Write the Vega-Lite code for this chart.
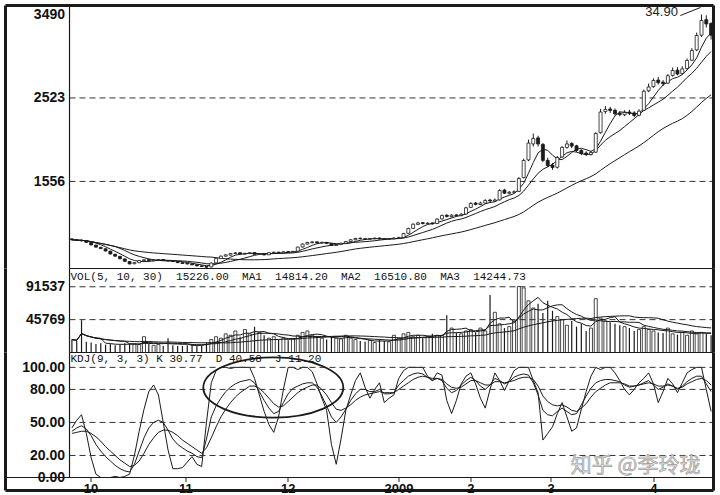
{
"$schema": "https://vega.github.io/schema/vega-lite/v6.json",
"background": "white",
"padding": {"left": 3.5, "top": 3.5, "right": 4, "bottom": 1},
"spacing": 0,
"bounds": "flush",
"config": {
 "view": {"stroke": null},
 "line": {"stroke": "#1a1a1a", "strokeWidth": 1},
 "rule": {"stroke": "#1a1a1a"}
},
"data": {"values": [
{"i":0,"o":890,"h":898,"l":872,"c":880,"v":18000,"k":42,"d":40,"j":45},
{"i":1,"o":878,"h":886,"l":866,"c":872,"v":16000,"k":45,"d":41,"j":52},
{"i":2,"o":874,"h":882,"l":860,"c":868,"v":45000,"k":47,"d":42,"j":57},
{"i":3,"o":866,"h":870,"l":845,"c":850,"v":15000,"k":44,"d":42,"j":40},
{"i":4,"o":848,"h":852,"l":815,"c":820,"v":14000,"k":38,"d":40,"j":18},
{"i":5,"o":818,"h":822,"l":790,"c":795,"v":12000,"k":30,"d":37,"j":3},
{"i":6,"o":792,"h":798,"l":772,"c":778,"v":13000,"k":24,"d":33,"j":0},
{"i":7,"o":775,"h":780,"l":745,"c":750,"v":11000,"k":19,"d":28,"j":0},
{"i":8,"o":748,"h":752,"l":710,"c":715,"v":12000,"k":15,"d":24,"j":0},
{"i":9,"o":712,"h":718,"l":684,"c":690,"v":10000,"k":11,"d":20,"j":1},
{"i":10,"o":688,"h":692,"l":655,"c":660,"v":11000,"k":8,"d":16,"j":0},
{"i":11,"o":658,"h":662,"l":625,"c":630,"v":13000,"k":6,"d":13,"j":1},
{"i":12,"o":628,"h":632,"l":595,"c":600,"v":12000,"k":5,"d":10,"j":3},
{"i":13,"o":602,"h":620,"l":598,"c":615,"v":12000,"k":12,"d":11,"j":20},
{"i":14,"o":614,"h":645,"l":610,"c":640,"v":11000,"k":24,"d":15,"j":42},
{"i":15,"o":638,"h":655,"l":632,"c":648,"v":22000,"k":36,"d":22,"j":62},
{"i":16,"o":650,"h":656,"l":632,"c":638,"v":12000,"k":45,"d":30,"j":78},
{"i":17,"o":636,"h":650,"l":630,"c":645,"v":10000,"k":50,"d":36,"j":84},
{"i":18,"o":644,"h":658,"l":640,"c":650,"v":11000,"k":52,"d":41,"j":75},
{"i":19,"o":652,"h":656,"l":635,"c":640,"v":9000,"k":50,"d":43,"j":50},
{"i":20,"o":640,"h":646,"l":628,"c":636,"v":20000,"k":43,"d":43,"j":25},
{"i":21,"o":636,"h":640,"l":622,"c":628,"v":10000,"k":35,"d":41,"j":8},
{"i":22,"o":628,"h":632,"l":610,"c":615,"v":9000,"k":30,"d":38,"j":8},
{"i":23,"o":614,"h":620,"l":600,"c":605,"v":9000,"k":27,"d":34,"j":9},
{"i":24,"o":606,"h":612,"l":594,"c":600,"v":10000,"k":24,"d":31,"j":14},
{"i":25,"o":600,"h":604,"l":585,"c":590,"v":12000,"k":22,"d":28,"j":19},
{"i":26,"o":590,"h":594,"l":572,"c":578,"v":9000,"k":19,"d":25,"j":12},
{"i":27,"o":578,"h":583,"l":565,"c":570,"v":10000,"k":18,"d":22,"j":10},
{"i":28,"o":570,"h":575,"l":556,"c":562,"v":14000,"k":35,"d":27,"j":50},
{"i":29,"o":565,"h":615,"l":562,"c":610,"v":18000,"k":55,"d":36,"j":86},
{"i":30,"o":612,"h":670,"l":608,"c":665,"v":22000,"k":65,"d":46,"j":97},
{"i":31,"o":662,"h":698,"l":658,"c":690,"v":20000,"k":72,"d":55,"j":100},
{"i":32,"o":690,"h":712,"l":684,"c":705,"v":26000,"k":78,"d":62,"j":100},
{"i":33,"o":702,"h":726,"l":698,"c":720,"v":24000,"k":82,"d":68,"j":99},
{"i":34,"o":720,"h":736,"l":714,"c":728,"v":30000,"k":85,"d":73,"j":100},
{"i":35,"o":730,"h":734,"l":710,"c":715,"v":22000,"k":87,"d":77,"j":100},
{"i":36,"o":714,"h":730,"l":708,"c":722,"v":32000,"k":88,"d":80,"j":100},
{"i":37,"o":720,"h":738,"l":715,"c":730,"v":26000,"k":89,"d":83,"j":100},
{"i":38,"o":732,"h":736,"l":706,"c":712,"v":36000,"k":86,"d":83,"j":90},
{"i":39,"o":710,"h":724,"l":704,"c":718,"v":28000,"k":78,"d":81,"j":75},
{"i":40,"o":718,"h":722,"l":698,"c":705,"v":24000,"k":70,"d":77,"j":60},
{"i":41,"o":706,"h":736,"l":702,"c":730,"v":20000,"k":63,"d":72,"j":48},
{"i":42,"o":728,"h":742,"l":722,"c":735,"v":22000,"k":58,"d":67,"j":41},
{"i":43,"o":736,"h":740,"l":722,"c":728,"v":18000,"k":60,"d":64,"j":55},
{"i":44,"o":728,"h":748,"l":724,"c":740,"v":20000,"k":68,"d":65,"j":80},
{"i":45,"o":742,"h":748,"l":730,"c":736,"v":17000,"k":76,"d":69,"j":100},
{"i":46,"o":735,"h":752,"l":730,"c":745,"v":19000,"k":81,"d":73,"j":100},
{"i":47,"o":748,"h":800,"l":745,"c":795,"v":24000,"k":83,"d":77,"j":98},
{"i":48,"o":796,"h":838,"l":790,"c":830,"v":28000,"k":85,"d":80,"j":100},
{"i":49,"o":830,"h":856,"l":824,"c":848,"v":30000,"k":86,"d":82,"j":100},
{"i":50,"o":846,"h":864,"l":840,"c":855,"v":24000,"k":86,"d":84,"j":96},
{"i":51,"o":856,"h":860,"l":838,"c":845,"v":22000,"k":82,"d":84,"j":85},
{"i":52,"o":842,"h":858,"l":836,"c":850,"v":20000,"k":74,"d":80,"j":72},
{"i":53,"o":850,"h":854,"l":830,"c":838,"v":18000,"k":65,"d":75,"j":61},
{"i":54,"o":836,"h":840,"l":808,"c":815,"v":22000,"k":55,"d":68,"j":30},
{"i":55,"o":814,"h":832,"l":808,"c":825,"v":20000,"k":50,"d":62,"j":12},
{"i":56,"o":826,"h":846,"l":820,"c":840,"v":19000,"k":55,"d":61,"j":35},
{"i":57,"o":840,"h":866,"l":835,"c":860,"v":24000,"k":62,"d":63,"j":61},
{"i":58,"o":860,"h":886,"l":855,"c":880,"v":20000,"k":70,"d":66,"j":75},
{"i":59,"o":880,"h":902,"l":874,"c":895,"v":18000,"k":76,"d":70,"j":88},
{"i":60,"o":898,"h":905,"l":885,"c":892,"v":16000,"k":80,"d":73,"j":95},
{"i":61,"o":892,"h":898,"l":880,"c":888,"v":15000,"k":80,"d":75,"j":82},
{"i":62,"o":886,"h":900,"l":880,"c":893,"v":17000,"k":78,"d":76,"j":72},
{"i":63,"o":892,"h":906,"l":886,"c":898,"v":14000,"k":78,"d":77,"j":80},
{"i":64,"o":900,"h":905,"l":884,"c":890,"v":18000,"k":80,"d":78,"j":86},
{"i":65,"o":890,"h":896,"l":878,"c":885,"v":16000,"k":76,"d":77,"j":68},
{"i":66,"o":884,"h":900,"l":878,"c":893,"v":15000,"k":76,"d":77,"j":72},
{"i":67,"o":892,"h":908,"l":886,"c":900,"v":24000,"k":77,"d":77,"j":75},
{"i":68,"o":898,"h":915,"l":892,"c":905,"v":20000,"k":84,"d":80,"j":90},
{"i":69,"o":906,"h":960,"l":900,"c":952,"v":26000,"k":88,"d":83,"j":97},
{"i":70,"o":955,"h":1020,"l":950,"c":1010,"v":28000,"k":92,"d":86,"j":100},
{"i":71,"o":1012,"h":1070,"l":1005,"c":1060,"v":22000,"k":94,"d":89,"j":100},
{"i":72,"o":1058,"h":1088,"l":1050,"c":1075,"v":24000,"k":95,"d":91,"j":100},
{"i":73,"o":1078,"h":1085,"l":1058,"c":1068,"v":20000,"k":94,"d":92,"j":100},
{"i":74,"o":1066,"h":1082,"l":1058,"c":1072,"v":22000,"k":91,"d":91,"j":92},
{"i":75,"o":1075,"h":1080,"l":1055,"c":1065,"v":26000,"k":88,"d":90,"j":88},
{"i":76,"o":1068,"h":1128,"l":1062,"c":1120,"v":24000,"k":90,"d":90,"j":95},
{"i":77,"o":1122,"h":1172,"l":1115,"c":1160,"v":24000,"k":88,"d":89,"j":93},
{"i":78,"o":1165,"h":1175,"l":1138,"c":1150,"v":52000,"k":81,"d":85,"j":70},
{"i":79,"o":1148,"h":1176,"l":1140,"c":1165,"v":34000,"k":77,"d":82,"j":58},
{"i":80,"o":1168,"h":1175,"l":1150,"c":1158,"v":28000,"k":79,"d":81,"j":70},
{"i":81,"o":1160,"h":1188,"l":1152,"c":1175,"v":26000,"k":84,"d":82,"j":85},
{"i":82,"o":1178,"h":1262,"l":1172,"c":1250,"v":30000,"k":88,"d":85,"j":92},
{"i":83,"o":1255,"h":1315,"l":1248,"c":1300,"v":32000,"k":91,"d":88,"j":95},
{"i":84,"o":1305,"h":1318,"l":1278,"c":1290,"v":28000,"k":88,"d":88,"j":85},
{"i":85,"o":1288,"h":1320,"l":1280,"c":1305,"v":34000,"k":83,"d":86,"j":72},
{"i":86,"o":1305,"h":1350,"l":1298,"c":1335,"v":30000,"k":80,"d":84,"j":63},
{"i":87,"o":1340,"h":1355,"l":1315,"c":1330,"v":80000,"k":84,"d":84,"j":80},
{"i":88,"o":1328,"h":1358,"l":1320,"c":1340,"v":56000,"k":90,"d":87,"j":95},
{"i":89,"o":1342,"h":1465,"l":1335,"c":1451,"v":40000,"k":88,"d":87,"j":88},
{"i":90,"o":1455,"h":1470,"l":1410,"c":1420,"v":34000,"k":85,"d":86,"j":79},
{"i":91,"o":1418,"h":1445,"l":1405,"c":1430,"v":36000,"k":87,"d":87,"j":88},
{"i":92,"o":1430,"h":1452,"l":1420,"c":1435,"v":44000,"k":91,"d":88,"j":97},
{"i":93,"o":1440,"h":1605,"l":1432,"c":1590,"v":92000,"k":93,"d":90,"j":100},
{"i":94,"o":1600,"h":1820,"l":1590,"c":1798,"v":90000,"k":94,"d":91,"j":100},
{"i":95,"o":1805,"h":2040,"l":1790,"c":2000,"v":72000,"k":93,"d":91,"j":100},
{"i":96,"o":1990,"h":2110,"l":1960,"c":2053,"v":62000,"k":86,"d":89,"j":88},
{"i":97,"o":2060,"h":2085,"l":1960,"c":1990,"v":68000,"k":75,"d":83,"j":77},
{"i":98,"o":1985,"h":2000,"l":1780,"c":1800,"v":55000,"k":61,"d":74,"j":34},
{"i":99,"o":1800,"h":1830,"l":1720,"c":1740,"v":72000,"k":57,"d":69,"j":40},
{"i":100,"o":1745,"h":1770,"l":1690,"c":1717,"v":58000,"k":56,"d":66,"j":46},
{"i":101,"o":1720,"h":1850,"l":1705,"c":1833,"v":50000,"k":60,"d":65,"j":58},
{"i":102,"o":1840,"h":1965,"l":1830,"c":1950,"v":46000,"k":63,"d":66,"j":68},
{"i":103,"o":1950,"h":2030,"l":1935,"c":1990,"v":38000,"k":60,"d":64,"j":55},
{"i":104,"o":1995,"h":2010,"l":1940,"c":1965,"v":44000,"k":57,"d":61,"j":42},
{"i":105,"o":1968,"h":1980,"l":1895,"c":1914,"v":36000,"k":58,"d":60,"j":45},
{"i":106,"o":1915,"h":1930,"l":1860,"c":1880,"v":40000,"k":66,"d":63,"j":62},
{"i":107,"o":1885,"h":1905,"l":1850,"c":1870,"v":30000,"k":74,"d":67,"j":78},
{"i":108,"o":1868,"h":1910,"l":1855,"c":1890,"v":34000,"k":81,"d":73,"j":92},
{"i":109,"o":1895,"h":2125,"l":1885,"c":2111,"v":75000,"k":86,"d":78,"j":100},
{"i":110,"o":2120,"h":2395,"l":2110,"c":2360,"v":48000,"k":88,"d":81,"j":98},
{"i":111,"o":2365,"h":2430,"l":2340,"c":2390,"v":44000,"k":89,"d":84,"j":100},
{"i":112,"o":2395,"h":2420,"l":2350,"c":2378,"v":42000,"k":89,"d":86,"j":100},
{"i":113,"o":2380,"h":2400,"l":2320,"c":2340,"v":40000,"k":88,"d":86,"j":95},
{"i":114,"o":2345,"h":2372,"l":2310,"c":2330,"v":38000,"k":87,"d":86,"j":88},
{"i":115,"o":2328,"h":2380,"l":2312,"c":2355,"v":36000,"k":84,"d":85,"j":80},
{"i":116,"o":2360,"h":2385,"l":2325,"c":2345,"v":34000,"k":82,"d":83,"j":75},
{"i":117,"o":2350,"h":2370,"l":2300,"c":2320,"v":30000,"k":83,"d":83,"j":80},
{"i":118,"o":2322,"h":2392,"l":2310,"c":2370,"v":32000,"k":84,"d":84,"j":86},
{"i":119,"o":2380,"h":2620,"l":2370,"c":2600,"v":36000,"k":86,"d":85,"j":90},
{"i":120,"o":2605,"h":2690,"l":2590,"c":2650,"v":32000,"k":88,"d":86,"j":95},
{"i":121,"o":2655,"h":2750,"l":2640,"c":2725,"v":30000,"k":84,"d":85,"j":85},
{"i":122,"o":2730,"h":2765,"l":2680,"c":2700,"v":28000,"k":80,"d":83,"j":68},
{"i":123,"o":2705,"h":2730,"l":2660,"c":2690,"v":27000,"k":82,"d":83,"j":78},
{"i":124,"o":2695,"h":2800,"l":2685,"c":2780,"v":34000,"k":85,"d":84,"j":90},
{"i":125,"o":2785,"h":2875,"l":2770,"c":2841,"v":26000,"k":83,"d":83,"j":85},
{"i":126,"o":2845,"h":2880,"l":2785,"c":2800,"v":25000,"k":80,"d":81,"j":77},
{"i":127,"o":2805,"h":2890,"l":2795,"c":2860,"v":28000,"k":83,"d":82,"j":86},
{"i":128,"o":2865,"h":2980,"l":2850,"c":2957,"v":24000,"k":87,"d":85,"j":95},
{"i":129,"o":2960,"h":3100,"l":2950,"c":3073,"v":30000,"k":90,"d":87,"j":98},
{"i":130,"o":3080,"h":3280,"l":3065,"c":3247,"v":26000,"k":92,"d":89,"j":100},
{"i":131,"o":3250,"h":3490,"l":3230,"c":3420,"v":28000,"k":92,"d":90,"j":100},
{"i":132,"o":3430,"h":3480,"l":3340,"c":3380,"v":26000,"k":85,"d":88,"j":80},
{"i":133,"o":3385,"h":3400,"l":3200,"c":3250,"v":24000,"k":78,"d":84,"j":60}
]},
"vconcat": [
 {
  "width": 708, "height": 263,
  "resolve": {"axis": {"x": "independent", "y": "independent"}},
  "layer": [
   {"mark": {"type": "rule", "strokeWidth": 1},
    "encoding": {"x": {"field": "i", "type": "quantitative", "scale": {"domain": [-13.82, 133.5], "nice": false, "zero": false, "padding": 0}, "axis": null},
     "y": {"field": "l", "type": "quantitative", "scale": {"domain": [547, 3594], "nice": false, "zero": false, "padding": 0},
       "axis": {"values": [3490, 2523, 1556], "format": "d", "offset": -64, "title": null, "domain": false, "ticks": false, "grid": false, "labelPadding": 5, "labelFont": "Liberation Sans", "labelFontWeight": "bold", "labelFontSize": 14, "labelColor": "#111", "zindex": 2}},
     "y2": {"field": "h"}}},
   {"data": {"values": [{"g": 2523}, {"g": 1556}]},
    "mark": {"type": "rule", "strokeWidth": 1, "strokeDash": [6, 4], "stroke": "#333"},
    "encoding": {"x": {"datum": -0.5, "type": "quantitative", "axis": null}, "x2": {"datum": 133.5},
     "y": {"field": "g", "type": "quantitative", "axis": null}}},
   {"transform": [
     {"window": [{"op": "mean", "field": "c", "as": "MA5"}], "frame": [-4, 0], "sort": [{"field": "i"}]},
     {"window": [{"op": "mean", "field": "c", "as": "MA10"}], "frame": [-9, 0], "sort": [{"field": "i"}]},
     {"window": [{"op": "mean", "field": "c", "as": "MA30"}], "frame": [-29, 0], "sort": [{"field": "i"}]},
     {"fold": ["MA5", "MA10", "MA30"], "as": ["ma", "val"]}],
    "mark": {"type": "line", "strokeWidth": 1},
    "encoding": {"x": {"field": "i", "type": "quantitative", "axis": null},
     "y": {"field": "val", "type": "quantitative", "axis": null},
     "detail": {"field": "ma"}}},
   {"mark": {"type": "bar", "width": 3, "stroke": "#1a1a1a", "strokeWidth": 0.8},
    "encoding": {"x": {"field": "i", "type": "quantitative", "axis": null},
     "y": {"field": "o", "type": "quantitative", "axis": null},
     "y2": {"field": "c"},
     "fill": {"condition": {"test": "datum.c >= datum.o", "value": "white"}, "value": "#1a1a1a"}}},
   {"data": {"values": [{}]}, "mark": {"type": "rule", "strokeWidth": 3},
    "encoding": {"y": {"datum": 3594, "type": "quantitative", "axis": null}}},
   {"data": {"values": [{"e": -13.82}, {"e": 133.5}]}, "mark": {"type": "rule", "strokeWidth": 3},
    "encoding": {"x": {"field": "e", "type": "quantitative", "axis": null}}},
   {"data": {"values": [{}]}, "mark": {"type": "rule", "strokeWidth": 1.2},
    "encoding": {"x": {"datum": -0.5, "type": "quantitative", "axis": null}}},
   {"data": {"values": [{}]}, "mark": {"type": "rule", "strokeWidth": 1},
    "encoding": {"x": {"datum": 126.6, "type": "quantitative", "axis": null}, "x2": {"datum": 130.8},
     "y": {"datum": 3478, "type": "quantitative", "axis": null}, "y2": {"datum": 3571}}},
   {"data": {"values": [{"t": "34.90"}]}, "mark": {"type": "text", "font": "Liberation Sans", "fontSize": 13, "fill": "#222", "align": "center", "baseline": "middle"},
    "encoding": {"x": {"datum": 122.7, "type": "quantitative", "axis": null},
     "y": {"datum": 3513, "type": "quantitative", "axis": null},
     "text": {"field": "t"}}}
  ]
 },
 {
  "width": 708, "height": 84,
  "resolve": {"axis": {"x": "independent", "y": "independent"}},
  "layer": [
   {"transform": [{"filter": "datum.c >= datum.o"}],
    "mark": {"type": "bar", "width": 3, "fill": "white", "stroke": "#1a1a1a", "strokeWidth": 0.8},
    "encoding": {"x": {"field": "i", "type": "quantitative", "scale": {"domain": [-13.82, 133.5], "nice": false, "zero": false, "padding": 0}, "axis": null},
     "y": {"field": "v", "type": "quantitative", "scale": {"domain": [0, 117000], "nice": false, "padding": 0},
       "axis": {"values": [91537, 45769], "format": "d", "offset": -64, "title": null, "domain": false, "ticks": false, "grid": false, "labelPadding": 5, "labelFont": "Liberation Sans", "labelFontWeight": "bold", "labelFontSize": 14, "labelColor": "#111", "zindex": 2}}}},
   {"transform": [{"filter": "datum.c < datum.o"}],
    "mark": {"type": "rule", "strokeWidth": 1.2},
    "encoding": {"x": {"field": "i", "type": "quantitative", "axis": null},
     "y": {"field": "v", "type": "quantitative", "axis": null}, "y2": {"datum": 0}}},
   {"data": {"values": [{"g": 91537}, {"g": 45769}]},
    "mark": {"type": "rule", "strokeWidth": 1, "strokeDash": [6, 4], "stroke": "#333"},
    "encoding": {"x": {"datum": -0.5, "type": "quantitative", "axis": null}, "x2": {"datum": 133.5},
     "y": {"field": "g", "type": "quantitative", "axis": null}}},
   {"transform": [
     {"window": [{"op": "mean", "field": "v", "as": "M5"}], "frame": [-4, 0], "sort": [{"field": "i"}]},
     {"window": [{"op": "mean", "field": "v", "as": "M10"}], "frame": [-9, 0], "sort": [{"field": "i"}]},
     {"window": [{"op": "mean", "field": "v", "as": "M30"}], "frame": [-29, 0], "sort": [{"field": "i"}]},
     {"fold": ["M5", "M10", "M30"], "as": ["ma", "val"]}],
    "mark": {"type": "line", "strokeWidth": 1},
    "encoding": {"x": {"field": "i", "type": "quantitative", "axis": null},
     "y": {"field": "val", "type": "quantitative", "axis": null},
     "detail": {"field": "ma"}}},
   {"data": {"values": [{"e": -13.82}, {"e": 133.5}]}, "mark": {"type": "rule", "strokeWidth": 3},
    "encoding": {"x": {"field": "e", "type": "quantitative", "axis": null}}},
   {"data": {"values": [{}]}, "mark": {"type": "rule", "strokeWidth": 1.2},
    "encoding": {"x": {"datum": -0.5, "type": "quantitative", "axis": null}}},
   {"data": {"values": [{}]}, "mark": {"type": "rule", "strokeWidth": 1.2},
    "encoding": {"x": {"datum": -0.5, "type": "quantitative", "axis": null}, "x2": {"datum": 133.5},
     "y": {"datum": 117000, "type": "quantitative", "axis": null}}},
   {"data": {"values": [{"t": "VOL(5, 10, 30)\u00a0\u00a015226.00\u00a0\u00a0MA1\u00a0\u00a014814.20\u00a0\u00a0MA2\u00a0\u00a016510.80\u00a0\u00a0MA3\u00a0\u00a014244.73"}]},
    "mark": {"type": "text", "font": "Liberation Mono", "fontSize": 11, "fill": "#111", "align": "left", "baseline": "middle"},
    "encoding": {"x": {"datum": -0.3, "type": "quantitative", "axis": null},
     "y": {"datum": 104500, "type": "quantitative", "axis": null},
     "text": {"field": "t"}}}
  ]
 },
 {
  "width": 708, "height": 138,
  "resolve": {"axis": {"x": "independent", "y": "independent"}},
  "layer": [
   {"transform": [{"fold": ["k", "d", "j"], "as": ["key", "val"]}],
    "mark": {"type": "line", "strokeWidth": 1},
    "encoding": {"x": {"field": "i", "type": "quantitative", "scale": {"domain": [-13.82, 133.5], "nice": false, "zero": false, "padding": 0},
       "axis": {"values": [3.87, 23.6, 44.9, 67.95, 82.9, 99.6, 121.0], "offset": -13, "title": null, "domain": false, "grid": false, "ticks": true, "tickSize": 4, "tickColor": "#222", "labelPadding": 1, "labelFont": "Liberation Sans", "labelFontWeight": "bold", "labelFontSize": 13, "labelColor": "#111", "labelFlush": false, "zindex": 2,
        "labelExpr": "datum.value < 10 ? '10' : datum.value < 30 ? '11' : datum.value < 50 ? '12' : datum.value < 75 ? '2009' : datum.value < 90 ? '2' : datum.value < 110 ? '3' : '4'"}},
     "y": {"field": "val", "type": "quantitative", "scale": {"domain": [-11.8, 113.5], "nice": false, "zero": false, "padding": 0},
       "axis": {"values": [100, 80, 50, 20, 0], "format": ".2f", "offset": -64, "title": null, "domain": false, "ticks": false, "grid": false, "labelPadding": 5, "labelFont": "Liberation Sans", "labelFontWeight": "bold", "labelFontSize": 14, "labelColor": "#111", "zindex": 2}},
     "detail": {"field": "key"}}},
   {"data": {"values": [{"g": 100}, {"g": 80}, {"g": 50}, {"g": 20}]},
    "mark": {"type": "rule", "strokeWidth": 1, "strokeDash": [6, 4], "stroke": "#333"},
    "encoding": {"x": {"datum": -0.5, "type": "quantitative", "axis": null}, "x2": {"datum": 133.5},
     "y": {"field": "g", "type": "quantitative", "axis": null}}},
   {"data": {"values": [{"e": -13.82}, {"e": 133.5}]}, "mark": {"type": "rule", "strokeWidth": 3},
    "encoding": {"x": {"field": "e", "type": "quantitative", "axis": null}}},
   {"data": {"values": [{}]}, "mark": {"type": "rule", "strokeWidth": 3},
    "encoding": {"y": {"datum": -11.8, "type": "quantitative", "axis": null}}},
   {"data": {"values": [{}]}, "mark": {"type": "rule", "strokeWidth": 1.2},
    "encoding": {"y": {"datum": 0, "type": "quantitative", "axis": null}}},
   {"data": {"values": [{}]}, "mark": {"type": "rule", "strokeWidth": 1.2},
    "encoding": {"x": {"datum": -0.5, "type": "quantitative", "axis": null},
     "y": {"datum": 113.5, "type": "quantitative", "axis": null}, "y2": {"datum": 0}}},
   {"data": {"values": [{}]}, "mark": {"type": "rule", "strokeWidth": 1.2},
    "encoding": {"x": {"datum": -0.5, "type": "quantitative", "axis": null}, "x2": {"datum": 133.5},
     "y": {"datum": 113.5, "type": "quantitative", "axis": null}}},
   {"data": {"values": [{}]},
    "mark": {"type": "point", "shape": "M-1,0A1,0.43,0,1,0,1,0A1,0.43,0,1,0,-1,0Z", "size": 19600, "filled": false, "stroke": "#1a1a1a", "strokeWidth": 1.8, "opacity": 1},
    "encoding": {"x": {"datum": 41.9, "type": "quantitative", "axis": null},
     "y": {"datum": 81.7, "type": "quantitative", "axis": null}}},
   {"data": {"values": [{"t": "KDJ(9, 3, 3) K 30.77\u00a0\u00a0D 40.58\u00a0\u00a0J 11.20"}]},
    "mark": {"type": "text", "font": "Liberation Mono", "fontSize": 11, "fill": "#111", "align": "left", "baseline": "middle"},
    "encoding": {"x": {"datum": -0.3, "type": "quantitative", "axis": null},
     "y": {"datum": 108, "type": "quantitative", "axis": null},
     "text": {"field": "t"}}},
   {"data": {"values": [{"t": "知乎 @李玲珑"}]},
    "mark": {"type": "text", "font": "Noto Sans CJK SC", "fontSize": 21, "fill": "#dedede", "stroke": "#9e9e9e", "strokeWidth": 0.7, "align": "center", "baseline": "middle"},
    "encoding": {"x": {"datum": 117.3, "type": "quantitative", "axis": null},
     "y": {"datum": 10, "type": "quantitative", "axis": null},
     "text": {"field": "t"}}}
  ]
 }
]
}
